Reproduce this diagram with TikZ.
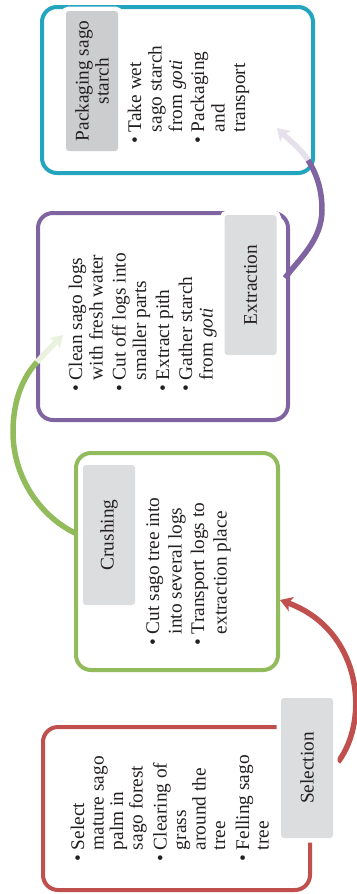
\documentclass[tikz,border=0pt]{standalone}
\usepackage{fontspec}
\setmainfont{Liberation Serif}
\usetikzlibrary{arrows.meta}

\definecolor{selred}{RGB}{192,80,77}
\definecolor{crugreen}{RGB}{146,187,92}
\definecolor{extpurple}{RGB}{128,100,162}
\definecolor{packcyan}{RGB}{35,165,192}
\definecolor{tabgray}{RGB}{220,221,222}
\definecolor{tabdark}{RGB}{204,205,206}
\definecolor{inktext}{RGB}{35,31,32}
\definecolor{palegreen}{RGB}{234,241,222}
\definecolor{palepurple}{RGB}{229,224,236}

\begin{document}
\begin{tikzpicture}[x=1pt, y=-1pt,
  stagebox/.style={draw, line width=4pt, rounded corners=15pt, inner sep=0pt},
  stagetab/.style={rotate=90, fill=tabgray, preaction={draw=white, line width=9pt}, rounded corners=3pt,
    minimum width=140pt, minimum height=52pt, inner sep=0pt, align=center, text=inktext,
    font=\fontsize{19.3}{20}\selectfont},
  steplist/.style={rotate=90, anchor=base west, inner sep=0pt, text=inktext, font=\fontsize{19.3}{#1}\selectfont},
  steplist/.default=20.5,
  flow/.style={line width=5.5pt, -{Stealth[length=12pt, width=15pt, inset=3pt]}}]
\useasboundingbox (0,0) rectangle (356,894);

\node[stagebox, draw=selred, minimum width=267pt, minimum height=163pt] (sel) at (176.5,808.5) {};
\node[stagebox, draw=crugreen, minimum width=202pt, minimum height=217pt] (cru) at (177,561.5) {};
\node[stagebox, draw=extpurple, minimum width=250pt, minimum height=207pt] (ext) at (163,316.5) {};
\node[stagebox, draw=packcyan, minimum width=271pt, minimum height=166pt] (pack) at (177.5,90) {};

\node[steplist=19.5] (selsteps) at (84,862) {\begin{tabular}[t]{@{}l@{\hspace{5pt}}l@{}}
  \textbullet & Select\\ & mature sago\\ & palm in\\ & sago forest\\[4.5pt]
  \textbullet & Clearing of\\ & grass\\ & around the\\ & tree\\[4.5pt]
  \textbullet & Felling sago\\ & tree
\end{tabular}};
\node[steplist=22.5] (crusteps) at (159,646) {\begin{tabular}[t]{@{}l@{\hspace{5pt}}l@{}}
  \textbullet & Cut sago tree into\\ & into several logs\\
  \textbullet & Transport logs to\\ & extraction place
\end{tabular}};
\node[steplist] (extsteps) at (82,392) {\begin{tabular}[t]{@{}l@{\hspace{5pt}}l@{}}
  \textbullet & Clean sago logs\\ & with fresh water\\[2.5pt]
  \textbullet & Cut off logs into\\ & smaller parts\\[2.5pt]
  \textbullet & Extract pith\\[2.5pt]
  \textbullet & Gather starch\\ & from \textit{goti}
\end{tabular}};
\node[steplist] (packsteps) at (141,144) {\begin{tabular}[t]{@{}l@{\hspace{5pt}}l@{}}
  \textbullet & Take wet\\ & sago starch\\ & from \textit{goti}\\[1.5pt]
  \textbullet & Packaging\\ & and\\ & transport
\end{tabular}};

\coordinate (selout) at (338,762);
\coordinate (cruin) at (280,600);
\coordinate (cruout) at (75,533);
\coordinate (crubend) at (37,362);
\coordinate (extin) at (63,335);
\coordinate (extout) at (285,278);
\coordinate (extbend) at (308,160);
\coordinate (packin) at (277,128);

\draw[flow, selred] (selout) .. controls (370,720) and (362,630) .. (cruin);
\draw[line width=5.5pt, crugreen] (cruout) .. controls (40,516) and (13,477) .. (13,432)
  .. controls (13,397) and (25,375) .. (crubend);
\draw[flow, palegreen] (crubend) .. controls (47,351) and (54,344) .. (extin);
\draw[line width=5.5pt, extpurple] (extout) .. controls (299,259) and (322,240) .. (322,210)
  .. controls (322,185) and (314,170) .. (extbend);
\draw[flow, palepurple] (extbend) .. controls (302,150) and (287,138) .. (packin);

\node[stagetab] (seltab) at (307,768) {Selection};
\node[stagetab] (crutab) at (109,535) {Crushing};
\node[stagetab] (exttab) at (250.5,285) {Extraction};
\node[stagetab, fill=tabdark] (packtab) at (92,81) {Packaging sago\\starch};
\end{tikzpicture}
\end{document}
